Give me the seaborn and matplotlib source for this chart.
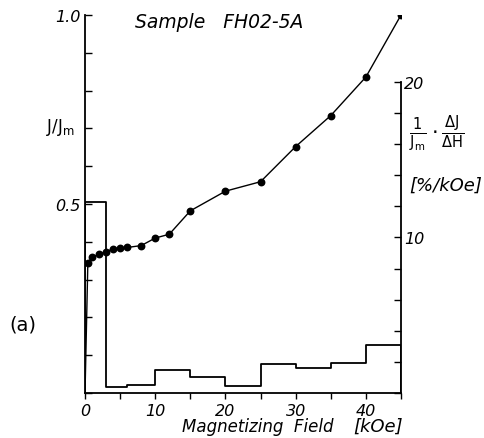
import numpy as np
import matplotlib
matplotlib.use("Agg")
import matplotlib.pyplot as plt
import seaborn as sns

# J/Jm curve vs magnetizing field (kOe)
field = [0, 0.4, 1, 2, 3, 4, 5, 6, 8, 10, 12, 15, 20, 25, 30, 35, 40, 45]
j_rel = [0, 0.343, 0.359, 0.367, 0.374, 0.381, 0.384, 0.385, 0.39, 0.41,
         0.42, 0.482, 0.534, 0.559, 0.652, 0.734, 0.836, 1.0]

# histogram of 1/Jm * dJ/dH  [%/kOe]
bin_edges = [0, 3, 6, 10, 15, 20, 25, 30, 35, 40, 45]
rate = [12.25, 0.36, 0.53, 1.48, 1.06, 0.47, 1.89, 1.59, 1.93, 3.06]

sns.set_style("ticks")
plt.rcParams['font.family'] = ['DejaVu Sans']
plt.rcParams['mathtext.fontset'] = 'dejavusans'
plt.rcParams['text.color'] = 'black'
plt.rcParams['xtick.color'] = 'black'
plt.rcParams['ytick.color'] = 'black'
plt.rcParams['axes.edgecolor'] = 'black'

fig = plt.figure(figsize=(4.85, 4.39), dpi=100)
ax = fig.add_axes([0.1753, 0.1025, 0.6515, 0.861])
ax2 = ax.twinx()

# J/Jm line (from origin) + markers
sns.lineplot(x=field, y=j_rel, ax=ax, color='black', lw=1.0, sort=False)
sns.scatterplot(x=field[1:], y=j_rel[1:], ax=ax, color='black', s=32,
                edgecolor='black', linewidth=0, zorder=5)

# step histogram on the right axis
step_y = np.append(rate, rate[-1])
sns.lineplot(x=bin_edges, y=step_y, ax=ax2, color='black', lw=1.3,
             drawstyle='steps-post', sort=False)
ax2.vlines([bin_edges[0], bin_edges[-1]], 0, [rate[0], rate[-1]],
           color='black', lw=1.3)

ax.set_xlim(0, 45)
ax.set_ylim(0, 1.0)
ax2.set_ylim(0, 24.3)

for a in (ax, ax2):
    for s in a.spines.values():
        s.set_linewidth(1.3)
ax.spines['top'].set_visible(False)
ax.spines['right'].set_visible(False)
ax2.spines['left'].set_visible(False)
ax2.spines['bottom'].set_visible(False)
ax2.spines['top'].set_visible(False)
ax2.spines['right'].set_bounds(0, 20)

itfont = dict(fontstyle='italic', fontsize=11.5)

ax.set_xticks(np.arange(0, 46, 5))
ax.set_xticklabels([str(v) if v % 10 == 0 and v < 45 else '' for v in range(0, 46, 5)], **itfont)
ax.tick_params(axis='x', direction='out', length=4, width=1, pad=3)

ax.set_yticks(np.arange(0, 1.01, 0.1))
ax.set_yticklabels(['1.0' if abs(v - 1) < 1e-6 else ('0.5' if abs(v - 0.5) < 1e-6 else '')
                    for v in np.arange(0, 1.01, 0.1)], **itfont)
ax.tick_params(axis='y', direction='in', length=5, width=1, pad=3)

ax2.set_yticks(np.arange(0, 21, 2))
ax2.set_yticklabels(['10' if v == 10 else ('20' if v == 20 else '') for v in range(0, 21, 2)], **itfont)
ax2.tick_params(axis='y', direction='in', length=5, width=1, pad=2)

ax.set_xlabel('')
ax.set_ylabel('')
ax2.set_ylabel('')

fig.text(0.278, 0.948, 'Sample   FH02-5A', fontsize=13.5, fontstyle='italic', va='center')
fig.text(0.095, 0.71, r'J/J$_\mathregular{m}$', fontsize=12, va='center')
fig.text(0.02, 0.26, '(a)', fontsize=14, va='center')
fig.text(0.375, 0.027, 'Magnetizing  Field', fontsize=12, fontstyle='italic', va='center')
fig.text(0.728, 0.027, '[kOe]', fontsize=13, fontstyle='italic', va='center')
fig.text(0.843, 0.695, r'$\frac{1}{\mathrm{J}_\mathrm{m}}\cdot\frac{\Delta \mathrm{J}}{\Delta \mathrm{H}}$',
         fontsize=15, va='center')
fig.text(0.843, 0.578, '[%/kOe]', fontsize=13, fontstyle='italic', va='center')

fig.savefig('out.png', dpi=100)
